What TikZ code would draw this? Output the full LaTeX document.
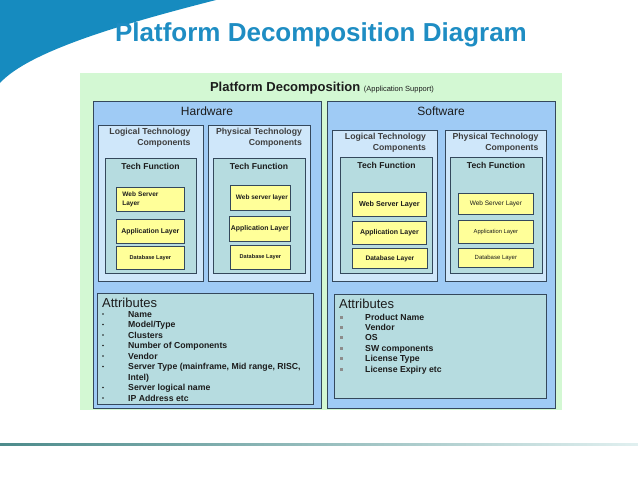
\documentclass[tikz,border=0pt]{standalone}
\usepackage{fontspec}
\setmainfont{Liberation Sans}
\usetikzlibrary{positioning}
\definecolor{swoosh}{HTML}{168BBF}
\definecolor{titleblue}{HTML}{1E8DC3}
\definecolor{bggreen}{HTML}{D3F8D3}
\definecolor{sideblue}{HTML}{9FCBF5}
\definecolor{compblue}{HTML}{CFE7FA}
\definecolor{functeal}{HTML}{B6DCE0}
\definecolor{layeryellow}{HTML}{FFFF99}
\definecolor{edge}{HTML}{34485C}
\definecolor{ink}{HTML}{1C1C1C}
\newcommand{\fsz}[2]{\fontsize{#1}{#2}\selectfont}
\tikzset{
  dims/.style 2 args = {minimum width=#1pt, minimum height=#2pt},
  frame/.style = {draw=edge, line width=0.8pt, inner sep=0pt, anchor=north west},
  side/.style = {frame, fill=sideblue},
  comp/.style = {frame, fill=compblue},
  func/.style = {frame, fill=functeal},
  layer/.style = {frame, fill=layeryellow, text=ink, align=center},
  sidename/.style = {inner sep=0pt, text=ink, font=\fsz{12}{14}},
  compname/.style = {inner sep=0pt, text=ink!85, align=right, font=\bfseries\fsz{8.7}{10.8}},
  funcname/.style = {inner sep=0pt, text=ink, font=\bfseries\fsz{8.6}{10}},
  attrhead/.style = {inner sep=0pt, anchor=base west, text=ink, font=\fsz{13}{15}},
  attritem/.style = {inner sep=0pt, anchor=base west, text=ink, font=\bfseries\fsz{8.7}{10}},
  hwdot/.style = {circle, fill=ink, inner sep=0pt, minimum size=1.8pt},
  swdot/.style = {rectangle, fill=black!45, inner sep=0pt, minimum size=3pt}
}
\begin{document}
\begin{tikzpicture}[x=1pt, y=-1pt]
  \useasboundingbox (0,0) rectangle (638,479);
  % corner swoosh and heading
  \fill[swoosh] (0,0) -- (216,0) .. controls (130,22) and (30,50) .. (0,83) -- cycle;
  \node[inner sep=0pt, text=titleblue, font=\bfseries\fsz{26}{30}] (title) at (321,35) {Platform Decomposition Diagram};
  \shade[left color=black!30!teal!70, right color=teal!12] (0,443.5) rectangle (638,445.5);

  % background panel
  \node[inner sep=0pt, anchor=north west, fill=bggreen, dims={482}{337}] (panel) at (80,73) {};
  \node[inner sep=0pt, text=ink] (paneltitle) at (322,88)
    {\bfseries\fsz{13}{15}Platform Decomposition \mdseries\fsz{7.5}{9}(Application Support)};

  % hardware side
  \node[side, dims={228}{307}] (hw) at (93,101) {};
  \node[sidename] (hwname) at (207,111) {Hardware};
  \node[comp, dims={105}{156}] (hwlog) at (98,125) {};
  \node[comp, dims={102}{156}] (hwphy) at (208,125) {};
  \node[compname] (hwlogname) at (150,138) {Logical Technology\\Components};
  \node[compname] (hwphyname) at (259,138) {Physical Technology\\Components};
  \node[func, dims={91}{115}] (hwlogtf) at (105,158) {};
  \node[func, dims={92}{115}] (hwphytf) at (213,158) {};
  \node[funcname] (hwlogtfname) at (150.5,166) {Tech Function};
  \node[funcname] (hwphytfname) at (259,166) {Tech Function};
  \node[layer, dims={68}{24}, align=left, text width=56pt, inner xsep=6pt, font=\bfseries\fsz{6.5}{9.5}] (hwlogweb) at (116,187) {Web Server\\Layer};
  \node[layer, dims={68}{24}, font=\bfseries\fsz{6.9}{8}] (hwlogapp) at (116,219) {Application Layer};
  \node[layer, dims={68}{23}, font=\bfseries\fsz{5.6}{7}] (hwlogdb) at (116,246) {Database Layer};
  \node[layer, dims={60}{25}, font=\bfseries\fsz{6.5}{8}] (hwphyweb) at (230,185) {\hspace*{3pt}Web server layer};
  \node[layer, dims={61}{25}, font=\bfseries\fsz{6.9}{8}] (hwphyapp) at (229,216) {Application Layer};
  \node[layer, dims={60}{24}, font=\bfseries\fsz{5.6}{7}] (hwphydb) at (230,245) {Database Layer};
  \node[func, dims={216}{111}] (hwattr) at (97,293) {};
  \node[attrhead] (hwattrname) at (102,307.5) {Attributes};
  \foreach \t [count=\i] in {Name, Model/Type, Clusters, Number of Components, Vendor,
      {Server Type (mainframe, Mid range, RISC,}, Intel), Server logical name, IP Address etc}
    \node[attritem] (hwitem\i) at (128,{306.5+10.5*\i}) {\t};
  \foreach \i in {1,...,6,8,9}
    \node[hwdot] (hwdot\i) at (103,{303.5+10.5*\i}) {};

  % software side
  \node[side, dims={228}{307}] (sw) at (327,101) {};
  \node[sidename] (swname) at (441,111) {Software};
  \node[comp, dims={105}{151}] (swlog) at (332,130) {};
  \node[comp, dims={101}{151}] (swphy) at (445,130) {};
  \node[compname] (swlogname) at (385.5,143) {Logical Technology\\Components};
  \node[compname] (swphyname) at (495.5,143) {Physical Technology\\Components};
  \node[func, dims={92}{116}] (swlogtf) at (340,157) {};
  \node[func, dims={92}{116}] (swphytf) at (450,157) {};
  \node[funcname] (swlogtfname) at (386.5,165) {Tech Function};
  \node[funcname] (swphytfname) at (496,165) {Tech Function};
  \node[layer, dims={74}{24}, font=\bfseries\fsz{7.2}{8}] (swlogweb) at (352,192) {Web Server Layer};
  \node[layer, dims={74}{23}, font=\bfseries\fsz{7}{8}] (swlogapp) at (352,221) {Application Layer};
  \node[layer, dims={75}{20}, font=\bfseries\fsz{6.6}{8}] (swlogdb) at (352,248) {Database Layer};
  \node[layer, dims={75}{21}, font=\fsz{6.5}{8}] (swphyweb) at (458,193) {Web Server Layer};
  \node[layer, dims={75}{23}, font=\fsz{5.8}{7}] (swphyapp) at (458,220) {Application Layer};
  \node[layer, dims={75}{19}, font=\fsz{6}{7}] (swphydb) at (458,248) {Database Layer};
  \node[func, dims={212}{104}] (swattr) at (334,294) {};
  \node[attrhead] (swattrname) at (339,308) {Attributes};
  \foreach \t [count=\i] in {Product Name, Vendor, OS, SW components, License Type, License Expiry etc}
    \node[attritem] (switem\i) at (365,{309.6+10.4*\i}) {\t};
  \foreach \i in {1,...,6}
    \node[swdot] (swdot\i) at (341,{306.6+10.4*\i}) {};
\end{tikzpicture}
\end{document}
